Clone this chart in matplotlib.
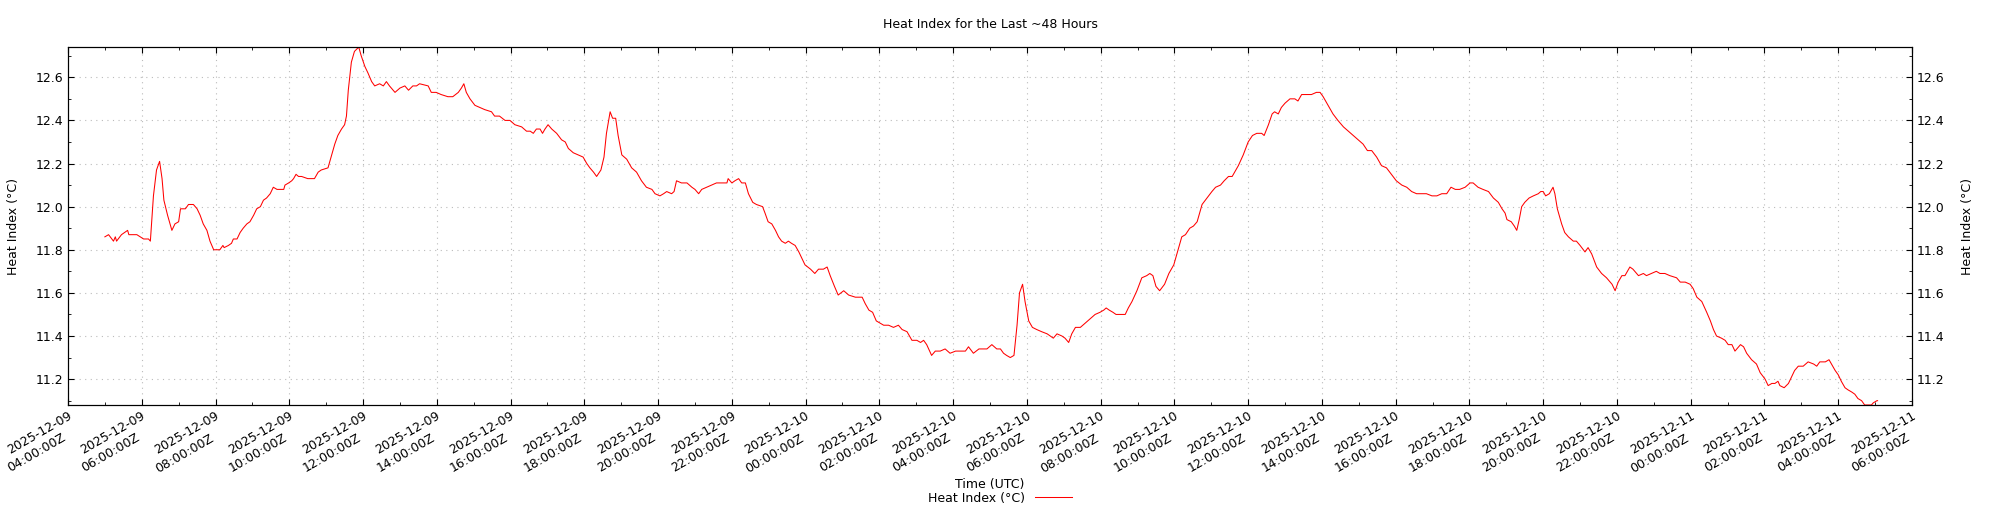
import numpy as np
import matplotlib
matplotlib.use("Agg")
import matplotlib.pyplot as plt
import matplotlib.dates as mdates
import matplotlib.transforms as mtransforms
from matplotlib.ticker import MultipleLocator, FormatStrFormatter

# Lecturas: minutos desde 2025-12-09 04:00Z y valor (°C)
inicio = np.datetime64("2025-12-09T04:00")
minutos = [
    60, 66, 74, 77, 79, 87, 97, 99, 112, 123, 131, 134, 139, 144, 149, 153,
    156, 162, 169, 174, 180, 183, 191, 196, 204, 210, 215, 220, 226, 231, 237,
    247, 252, 254, 261, 266, 269, 275, 280, 285, 291, 296, 302, 307, 313, 318,
    323, 329, 334, 340, 351, 353, 359, 364, 367, 371, 375,
    380, 390, 401, 407, 412, 423, 428, 434, 439, 445, 450, 453, 456, 461, 466,
    473, 477, 483, 488, 494, 499, 507, 513, 518, 523, 532, 540, 548, 554, 561,
    567, 572, 586, 591, 599, 607, 618, 626, 635, 640, 644, 648, 654, 662, 670,
    678, 689, 694, 702, 711, 719, 727, 738, 746,
    752, 757, 762, 768, 772, 776, 781, 787, 795, 803, 809, 814, 822, 830, 838,
    844, 849, 855, 860, 867, 872, 876, 882, 886, 891, 895, 901, 909, 917, 925,
    933, 941, 950, 955, 963, 969, 974, 982, 986, 990, 998, 1007, 1015, 1020,
    1026, 1031, 1039, 1047, 1055, 1063, 1072, 1074, 1080, 1085, 1091, 1096,
    1102, 1107, 1114, 1120, 1130,
    1134, 1139, 1145, 1151, 1156, 1161, 1167, 1172, 1177, 1183, 1189, 1194,
    1199, 1208, 1215, 1221, 1229, 1235, 1240, 1247, 1253, 1262, 1270, 1281,
    1292, 1297, 1303, 1309, 1315, 1321, 1327, 1335, 1343, 1351, 1357, 1365,
    1373, 1381, 1387, 1392, 1397, 1405, 1411, 1419, 1427, 1435, 1444, 1454,
    1460, 1465, 1473, 1482, 1490, 1495, 1503, 1511,
    1517, 1522, 1527, 1533, 1539, 1544, 1548, 1553, 1557, 1563, 1569, 1576,
    1584, 1593, 1598, 1603, 1609, 1617, 1622, 1628, 1633, 1639, 1647, 1655,
    1663, 1671, 1679, 1685, 1689, 1694, 1700, 1705, 1712, 1720, 1725, 1731,
    1739, 1747, 1755, 1760, 1765, 1770, 1776, 1784, 1791, 1799, 1805, 1812,
    1818, 1825, 1831, 1837, 1845, 1853, 1861, 1867, 1875, 1881, 1888, 1894,
    1898, 1904, 1912, 1920, 1927, 1934, 1942, 1946, 1953, 1959, 1963, 1969,
    1974, 1980, 1988, 1996, 2001, 2007, 2015, 2023, 2031, 2037, 2042, 2050,
    2058, 2066, 2075, 2083, 2091, 2099, 2107, 2114, 2121, 2129, 2137, 2145,
    2153, 2161, 2170, 2178, 2186, 2194, 2202, 2210, 2219, 2227, 2235, 2243,
    2250, 2257, 2264, 2273,
    2281, 2286, 2294, 2302, 2311, 2319, 2327, 2333, 2338, 2341, 2348, 2353,
    2357, 2361, 2365, 2370, 2377, 2384, 2392, 2396, 2400, 2404, 2410, 2416,
    2419, 2423, 2430, 2435, 2441, 2449, 2454, 2460, 2468, 2473, 2479, 2487,
    2495, 2503, 2512, 2517, 2522, 2528, 2533, 2541, 2546, 2555, 2563, 2568,
    2576, 2584, 2590, 2598, 2606, 2617,
    2623, 2631, 2639, 2644, 2650, 2658, 2666, 2672, 2677, 2682, 2690, 2696,
    2701, 2707, 2712, 2718, 2721, 2726, 2731, 2739, 2747, 2753, 2761, 2766,
    2772, 2777, 2782, 2785, 2792, 2799, 2804, 2809, 2815, 2823, 2831, 2840,
    2845, 2850, 2859, 2865, 2869, 2875, 2880, 2885, 2891, 2896, 2902, 2907,
    2912, 2918, 2923, 2934, 2937, 2943, 2944,
]
indice_calor = [
    11.86, 11.87, 11.84, 11.86, 11.84, 11.87, 11.89, 11.87, 11.87, 11.85, 11.85,
    11.84, 12.05, 12.17, 12.21, 12.13, 12.03, 11.96, 11.89, 11.92, 11.93, 11.99,
    11.99, 12.01, 12.01, 11.99, 11.96, 11.92, 11.89, 11.84, 11.80, 11.80, 11.82,
    11.81, 11.82, 11.83, 11.85, 11.85, 11.88, 11.90, 11.92, 11.93, 11.96, 11.99,
    12.00, 12.03, 12.04, 12.06, 12.09, 12.08, 12.08, 12.10, 12.11, 12.12, 12.13,
    12.15, 12.14,
    12.14, 12.13, 12.13, 12.16, 12.17, 12.18, 12.23, 12.29, 12.33, 12.36, 12.38,
    12.42, 12.54, 12.67, 12.72, 12.74, 12.70, 12.65, 12.62, 12.58, 12.56, 12.57,
    12.56, 12.58, 12.56, 12.53, 12.55, 12.56, 12.54, 12.56, 12.56, 12.57, 12.56,
    12.53, 12.53, 12.52, 12.51, 12.51, 12.53, 12.55, 12.57, 12.53, 12.50, 12.47,
    12.46, 12.45, 12.44, 12.42, 12.42, 12.40, 12.40, 12.38, 12.37, 12.35,
    12.35, 12.34, 12.36, 12.36, 12.34, 12.36, 12.38, 12.36, 12.34, 12.31, 12.30,
    12.27, 12.25, 12.24, 12.23, 12.20, 12.18, 12.16, 12.14, 12.17, 12.23, 12.34,
    12.44, 12.41, 12.41, 12.33, 12.24, 12.22, 12.18, 12.16, 12.12, 12.09, 12.08,
    12.06, 12.05, 12.06, 12.07, 12.06, 12.07, 12.12, 12.11, 12.11, 12.09, 12.08,
    12.06, 12.08, 12.09, 12.10, 12.11, 12.11, 12.11, 12.13, 12.11, 12.12, 12.13,
    12.11, 12.11, 12.06, 12.02, 12.01, 12.00,
    11.97, 11.93, 11.92, 11.89, 11.86, 11.84, 11.83, 11.84, 11.83, 11.82, 11.79,
    11.76, 11.73, 11.71, 11.69, 11.71, 11.71, 11.72, 11.68, 11.63, 11.59, 11.61,
    11.59, 11.58, 11.58, 11.55, 11.52, 11.51, 11.47, 11.46, 11.45, 11.45, 11.44,
    11.45, 11.43, 11.42, 11.38, 11.38, 11.37, 11.38, 11.36, 11.31, 11.33, 11.33,
    11.34, 11.32, 11.33, 11.33, 11.33, 11.35, 11.32, 11.34, 11.34, 11.34, 11.36,
    11.34,
    11.34, 11.32, 11.31, 11.30, 11.31, 11.45, 11.60, 11.64, 11.56, 11.47, 11.44,
    11.43, 11.42, 11.41, 11.40, 11.39, 11.41, 11.40, 11.39, 11.37, 11.41, 11.44,
    11.44, 11.46, 11.48, 11.50, 11.51, 11.52, 11.53, 11.52, 11.51, 11.50, 11.50,
    11.50, 11.53, 11.56, 11.61, 11.67, 11.68, 11.69, 11.68, 11.63, 11.61, 11.64,
    11.69, 11.73, 11.79, 11.86, 11.87, 11.90, 11.91, 11.93, 12.01, 12.04, 12.07,
    12.09, 12.10, 12.12, 12.14, 12.14,
    12.16, 12.19, 12.24, 12.30, 12.33, 12.34, 12.34, 12.33, 12.38, 12.43, 12.44,
    12.43, 12.46, 12.48, 12.50, 12.50, 12.49, 12.52, 12.52, 12.52, 12.53, 12.53,
    12.51, 12.47, 12.43, 12.40, 12.37, 12.35, 12.33, 12.31, 12.29, 12.26, 12.26,
    12.23, 12.19, 12.18, 12.15, 12.12, 12.10, 12.09, 12.07, 12.06, 12.06, 12.06,
    12.05, 12.05, 12.06, 12.06, 12.09, 12.08, 12.08, 12.09,
    12.11, 12.11, 12.09, 12.08, 12.07, 12.04, 12.02, 11.99, 11.97, 11.94, 11.93,
    11.91, 11.89, 11.94, 12.00, 12.02, 12.04, 12.05, 12.06, 12.07, 12.07, 12.05,
    12.06, 12.09, 12.06, 11.99, 11.92, 11.88, 11.86, 11.84, 11.84, 11.82, 11.79,
    11.81, 11.78, 11.72, 11.69, 11.67, 11.64, 11.61, 11.65, 11.68, 11.68, 11.72,
    11.71, 11.68, 11.69, 11.68, 11.69, 11.70, 11.69, 11.69, 11.68, 11.67,
    11.65, 11.65, 11.64, 11.62, 11.58, 11.56, 11.51, 11.47, 11.43, 11.40, 11.39,
    11.38, 11.36, 11.36, 11.33, 11.35, 11.36, 11.35, 11.32, 11.29, 11.27, 11.23,
    11.20, 11.17, 11.18, 11.18, 11.19, 11.17, 11.16, 11.18, 11.21, 11.24, 11.26,
    11.26, 11.28, 11.27, 11.26, 11.28, 11.28, 11.29, 11.27, 11.24, 11.22, 11.19,
    11.16, 11.15, 11.14, 11.13, 11.11, 11.10, 11.08, 11.08, 11.09, 11.10, 11.10,
]
eje_inicio = "2025-12-09T04:00"
eje_fin = "2025-12-11T06:00"

tiempos = inicio + np.array(minutos).astype("timedelta64[m]")
fs = 9

fig = plt.figure(figsize=(20, 5.12), dpi=100)
ax = fig.add_axes([0.034, 0.209, 0.922, 0.699])
ax.plot(tiempos, indice_calor, color="red", linewidth=0.75, label="Heat Index (°C)")

ax.set_xlim(np.datetime64(eje_inicio), np.datetime64(eje_fin))
ax.set_ylim(min(indice_calor), max(indice_calor))

# eje derecho con las mismas marcas
ax2 = ax.twinx()
ax2.set_ylim(ax.get_ylim())
for a in (ax, ax2):
    a.yaxis.set_major_locator(MultipleLocator(0.2))
    a.yaxis.set_minor_locator(MultipleLocator(0.1))
    a.yaxis.set_major_formatter(FormatStrFormatter("%.1f"))
    a.tick_params(which="both", direction="in", labelsize=fs)
    a.tick_params(which="major", length=4)
    a.tick_params(which="minor", length=2.5)
ax.tick_params(axis="x", which="both", top=True)

# fecha en la primera linea, hora en la segunda (eje secundario)
ax.xaxis.set_major_locator(mdates.HourLocator(interval=2))
ax.xaxis.set_minor_locator(mdates.HourLocator(interval=1))
ax.xaxis.set_major_formatter(mdates.DateFormatter("%Y-%m-%d"))
ax.tick_params(axis="x", which="major", pad=3)

sec = ax.secondary_xaxis("bottom")
sec.xaxis.set_major_locator(mdates.HourLocator(interval=2))
sec.xaxis.set_major_formatter(mdates.DateFormatter("%H:%M:%SZ"))
sec.tick_params(axis="x", length=0, pad=19, labelsize=fs)
sec.spines["bottom"].set_visible(False)

desplaza = mtransforms.ScaledTranslation(6 / 100, 0, fig.dpi_scale_trans)
for lbl in ax.get_xticklabels():
    lbl.set_rotation(30)
    lbl.set_ha("right")
    lbl.set_transform(lbl.get_transform() + desplaza)
for lbl in sec.get_xticklabels():
    lbl.set_rotation(30)
    lbl.set_ha("right")

ax.grid(True, which="major", linestyle=(0, (1, 4)), color="#bbbbbb", linewidth=0.8)

ax.set_ylabel("Heat Index (°C)", fontsize=fs)
ax.yaxis.set_label_coords(-0.026, 0.5)
ax2.set_ylabel("Heat Index (°C)", fontsize=fs)
ax2.yaxis.set_label_coords(1.0266, 0.5)

ax.set_xlabel("Time (UTC)", fontsize=fs)
ax.xaxis.set_label_coords(0.5, -0.205)
ax.set_title("Heat Index for the Last ~48 Hours", fontsize=fs, pad=14)

fig.legend(loc="center", bbox_to_anchor=(0.5, 0.027), frameon=False,
           markerfirst=False, handlelength=3.0, fontsize=fs,
           borderaxespad=0, borderpad=0)

fig.savefig("out.png", dpi=100)
